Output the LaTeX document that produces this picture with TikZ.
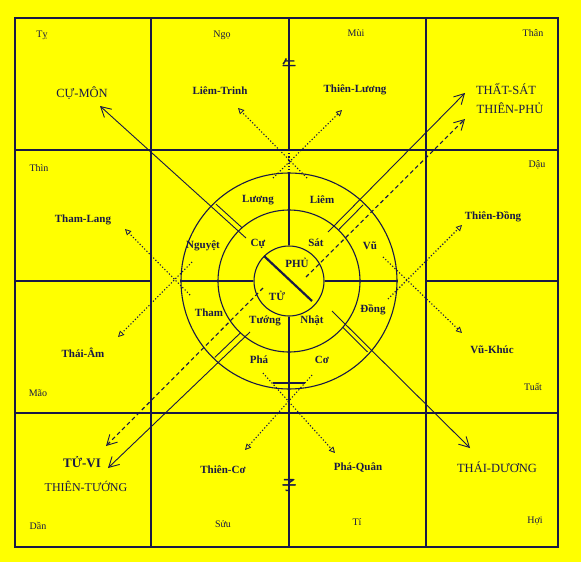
\documentclass[tikz,border=0pt]{standalone}
\usepackage{fontspec}
\setmainfont{Liberation Serif}
\newfontfamily\cjkfont[FakeBold=2.5]{Noto Sans CJK SC}
\usetikzlibrary{arrows.meta,calc}
\definecolor{ink}{RGB}{25,25,70}
\definecolor{bg}{RGB}{255,255,0}
\begin{document}
\begin{tikzpicture}[x=1pt,y=-1pt,
  border/.style={ink,line width=2.4pt},
  gridline/.style={ink,line width=1.2pt},
  ringc/.style={circle,draw=ink,line width=1.1pt,inner sep=0pt},
  twin/.style={ink,line width=0.9pt},
  solidarr/.style={ink,line width=0.9pt,-{Straight Barb[length=10pt,width=11pt,line width=0.9pt]}},
  dasharr/.style={ink,line width=1.1pt,dash pattern=on 4pt off 3pt,-{Straight Barb[length=10pt,width=11pt,line width=0.9pt]}},
  dotarr/.style={ink,line width=1.1pt,dash pattern=on 1.2pt off 2pt,-{Triangle[open,length=6pt,width=6pt,line width=0.8pt]}},
  dotline/.style={ink,line width=1.1pt,dash pattern=on 1.2pt off 2pt},
  branch/.style={text=ink,font=\fontsize{10}{11}\selectfont},
  star/.style={text=ink,font=\bfseries\fontsize{11}{12}\selectfont},
  major/.style={text=ink,font=\fontsize{12.5}{14}\selectfont},
  ringlbl/.style={text=ink,font=\bfseries\fontsize{11}{13}\selectfont},
  cjk/.style={text=ink,font=\cjkfont\fontsize{14}{14}\selectfont}
]
\fill[bg] (0,0) rectangle (581,562);
\useasboundingbox (0,0) rectangle (581,562);

% grid
\draw[border] (15,18) rectangle (558,547);
\draw[gridline] (151,18) -- (151,547);
\draw[gridline] (426,18) -- (426,547);
\draw[gridline] (15,150) -- (558,150);
\draw[gridline] (15,413) -- (558,413);
\draw[gridline] (289,18) -- (289,150);
\draw[gridline] (15,281) -- (151,281);
\draw[gridline] (426,281) -- (558,281);

% rings
\coordinate (C) at (289,281);
\node[ringc,minimum size=216pt] (outer) at (C) {};
\node[ringc,minimum size=142pt] (middle) at (C) {};
\node[ringc,minimum size=70pt] (inner) at (C) {};
\draw[gridline] (outer.west) -- (inner.west);
\draw[gridline] (inner.east) -- (outer.east);
\draw[gridline] (outer.north) -- (inner.north);
\draw[gridline] (inner.south) -- (289,547);
\draw[dotline] (289,150) -- (outer.north);
\draw[gridline] (273,383) -- (305,383);
\draw[ink,line width=2.2pt] (264,256) -- (312,301);

% solid and dashed arrows
\coordinate (nwS) at (246,238); \coordinate (nwT) at (100,106);
\coordinate (neS) at (328,232); \coordinate (neT) at (465,93);
\coordinate (swS) at (250,332); \coordinate (swT) at (108,468);
\coordinate (seS) at (332,311); \coordinate (seT) at (470,448);
\coordinate (dneS) at (306,277); \coordinate (dneT) at (465,119);
\coordinate (dswS) at (263,288); \coordinate (dswT) at (106,446);
\draw[solidarr] (nwS) -- (nwT);
\draw[solidarr] (neS) -- (neT);
\draw[solidarr] (swS) -- (swT);
\draw[solidarr] (seS) -- (seT);
\draw[dasharr] (dneS) -- (dneT);
\draw[dasharr] (dswS) -- (dswT);
\draw[twin] ($(nwS)!10pt!(nwT)!5pt!-90:(nwT)$) -- ($(nwS)!45pt!(nwT)!5pt!-90:(nwT)$);
\draw[twin] ($(neS)!9pt!(neT)!6pt!-90:(neT)$) -- ($(neS)!44pt!(neT)!6pt!-90:(neT)$);
\draw[twin] ($(swS)!7pt!(swT)!6pt!-90:(swT)$) -- ($(swS)!43pt!(swT)!6pt!-90:(swT)$);
\draw[twin] ($(seS)!19pt!(seT)!4pt!-90:(seT)$) -- ($(seS)!54pt!(seT)!4pt!-90:(seT)$);

% dotted arrows
\coordinate (d1S) at (307,178); \coordinate (d1T) at (238,108);
\coordinate (d2S) at (273,178); \coordinate (d2T) at (342,110);
\coordinate (d3S) at (190,295); \coordinate (d3T) at (125,229);
\coordinate (d4S) at (192,262); \coordinate (d4T) at (118,337);
\coordinate (d5S) at (388,299); \coordinate (d5T) at (462,225);
\coordinate (d6S) at (383,257); \coordinate (d6T) at (462,333);
\coordinate (d7S) at (312,375); \coordinate (d7T) at (245,450);
\coordinate (d8S) at (263,373); \coordinate (d8T) at (335,453);
\foreach \i in {1,...,8} \draw[dotarr] (d\i S) -- (d\i T);

% branch labels
\node[branch] (ty) at (42,35) {Tỵ};
\node[branch] (ngo) at (222,35) {Ngọ};
\node[branch] (mui) at (356,33) {Mùi};
\node[branch] (than) at (533,33) {Thân};
\node[branch] (thin) at (39,168) {Thìn};
\node[branch] (dau) at (537,165) {Dậu};
\node[branch] (mao) at (38,393) {Mão};
\node[branch] (tuat) at (533,387) {Tuất};
\node[branch] (dan) at (38,526) {Dần};
\node[branch] (suu) at (223,524) {Sửu};
\node[branch] (ti) at (357,522) {Tí};
\node[branch] (hoi) at (535,521) {Hợi};
\node[cjk] (ngoh) at (289,65) {午};
\node[cjk] (tyh) at (289,485) {子};

% star labels
\node[major] (cumon) at (82,93) {CỰ-MÔN};
\node[star] (liemtrinh) at (220,91) {Liêm-Trinh};
\node[star] (thienluong) at (355,90) {Thiên-Lương};
\node[major] (thatsat) at (506,89) {THẤT-SÁT};
\node[major] (thienphu) at (510,108) {THIÊN-PHỦ};
\node[star] (thamlang) at (83,220) {Tham-Lang};
\node[star] (thiendong) at (493,217) {Thiên-Đồng};
\node[star] (thaiam) at (83,353) {Thái-Âm};
\node[star] (vukhuc) at (492,350) {Vũ-Khúc};
\node[major,font=\bfseries\fontsize{13}{14}\selectfont] (tuvi) at (82,462) {TỬ-VI};
\node[major,font=\fontsize{12}{14}\selectfont] (thientuong) at (86,486) {THIÊN-TƯỚNG};
\node[star] (thienco) at (223,470) {Thiên-Cơ};
\node[star] (phaquan) at (358,468) {Phá-Quân};
\node[major] (thaiduong) at (497,467) {THÁI-DƯƠNG};

% ring labels
\node[ringlbl] (r1) at (258,200) {Lương};
\node[ringlbl] (r2) at (322,200) {Liêm};
\node[ringlbl] (r3) at (370,246) {Vũ};
\node[ringlbl] (r4) at (373,310) {Đồng};
\node[ringlbl] (r5) at (322,360) {Cơ};
\node[ringlbl] (r6) at (259,360) {Phá};
\node[ringlbl] (r7) at (209,313) {Tham};
\node[ringlbl] (r8) at (203,246) {Nguyệt};
\node[ringlbl] (m1) at (258,244) {Cự};
\node[ringlbl] (m2) at (316,243) {Sát};
\node[ringlbl] (m3) at (265,321) {Tướng};
\node[ringlbl] (m4) at (312,321) {Nhật};
\node[ringlbl] (i1) at (297,263) {PHỦ};
\node[ringlbl] (i2) at (277,296) {TỬ};
\end{tikzpicture}
\end{document}
